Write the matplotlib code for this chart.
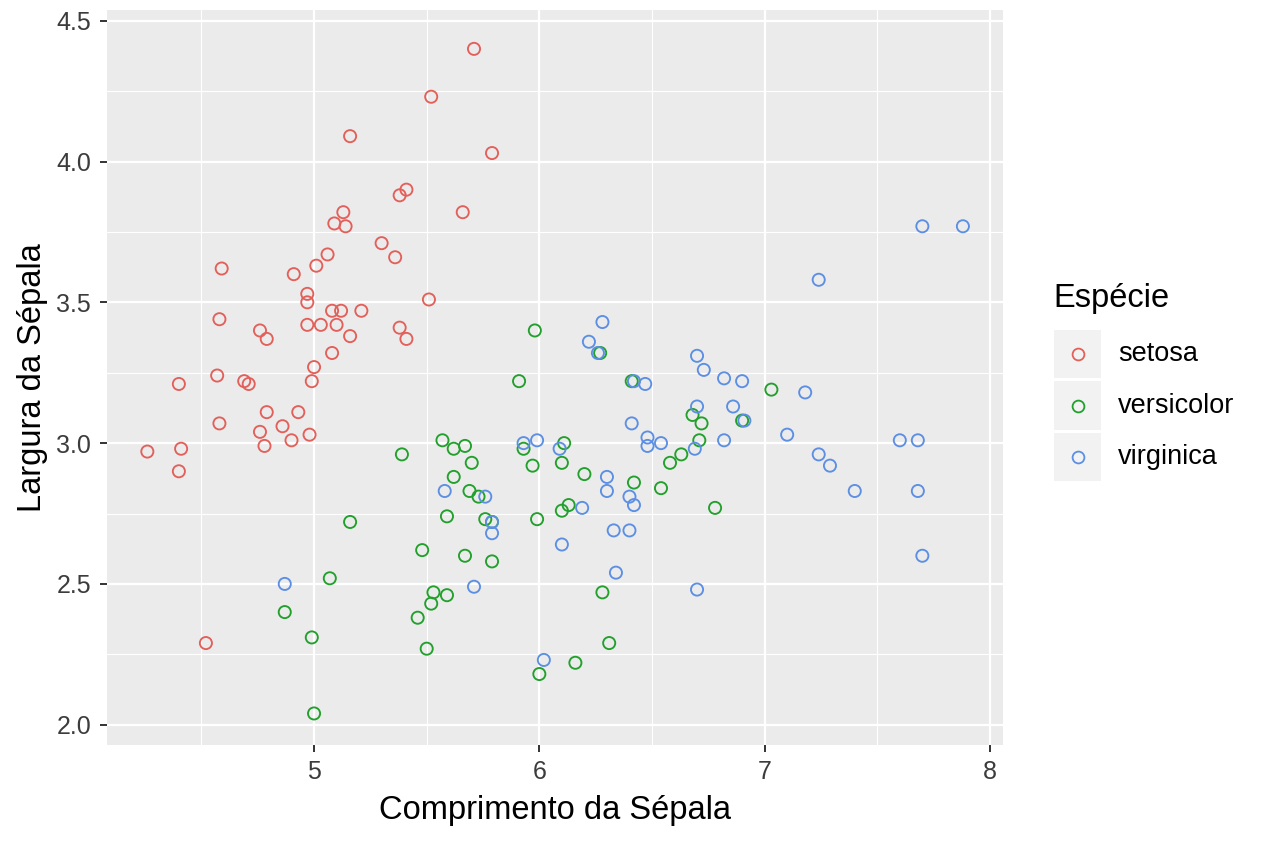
import numpy as np
import matplotlib.pyplot as plt
from matplotlib.patches import Rectangle
from matplotlib.lines import Line2D
from matplotlib.ticker import MultipleLocator

plt.rcParams['font.family'] = ['Liberation Sans', 'DejaVu Sans']

# Jittered iris values
setosa_x = [5.71, 5.52, 5.16, 5.79, 5.41, 5.38, 5.66, 5.13, 5.09, 5.14,
            5.30, 5.06, 5.36, 4.59, 5.01, 4.91, 4.97, 5.51, 4.97, 5.08,
            5.12, 5.21, 4.58, 4.97, 5.03, 5.10, 5.38, 4.76, 5.16, 4.79,
            5.41, 5.08, 5.00, 4.57, 4.69, 4.71, 4.99, 4.40, 4.79, 4.93,
            4.58, 4.86, 4.76, 4.98, 4.90, 4.78, 4.41, 4.26, 4.40, 4.52]
setosa_y = [4.40, 4.23, 4.09, 4.03, 3.90, 3.88, 3.82, 3.82, 3.78, 3.77,
            3.71, 3.67, 3.66, 3.62, 3.63, 3.60, 3.53, 3.51, 3.50, 3.47,
            3.47, 3.47, 3.44, 3.42, 3.42, 3.42, 3.41, 3.40, 3.38, 3.37,
            3.37, 3.32, 3.27, 3.24, 3.22, 3.21, 3.22, 3.21, 3.11, 3.11,
            3.07, 3.06, 3.04, 3.03, 3.01, 2.99, 2.98, 2.97, 2.90, 2.29]

versicolor_x = [5.98, 5.91, 5.57, 5.62, 5.67, 5.39, 5.70, 5.62, 5.69, 5.73,
                5.59, 5.76, 5.79, 5.16, 5.48, 5.67, 5.79, 5.07, 5.53, 5.59,
                5.52, 4.87, 5.46, 4.99, 5.50, 5.00, 5.93, 6.11, 5.97, 6.10,
                6.20, 5.99, 6.10, 6.13, 6.42, 6.54, 6.78, 6.58, 6.63, 6.71,
                6.68, 6.72, 6.41, 6.28, 6.31, 6.16, 6.00, 6.90, 7.03, 6.27]
versicolor_y = [3.40, 3.22, 3.01, 2.98, 2.99, 2.96, 2.93, 2.88, 2.83, 2.81,
                2.74, 2.73, 2.72, 2.72, 2.62, 2.60, 2.58, 2.52, 2.47, 2.46,
                2.43, 2.40, 2.38, 2.31, 2.27, 2.04, 2.98, 3.00, 2.92, 2.93,
                2.89, 2.73, 2.76, 2.78, 2.86, 2.84, 2.77, 2.93, 2.96, 3.01,
                3.10, 3.07, 3.22, 2.47, 2.29, 2.22, 2.18, 3.08, 3.19, 3.32]

virginica_x = [7.70, 7.88, 7.24, 6.28, 6.22, 6.26, 6.70, 6.73, 6.82, 6.90,
               6.42, 6.47, 7.18, 6.70, 6.86, 6.91, 6.41, 7.10, 6.48, 6.48,
               6.54, 6.69, 6.82, 7.60, 7.68, 7.24, 7.29, 7.40, 7.68, 6.30,
               6.30, 6.40, 6.42, 6.33, 6.40, 7.70, 6.34, 6.70, 5.93, 5.99,
               6.09, 5.58, 5.76, 6.19, 5.79, 5.79, 6.10, 5.71, 6.02, 4.87]
virginica_y = [3.77, 3.77, 3.58, 3.43, 3.36, 3.32, 3.31, 3.26, 3.23, 3.22,
               3.22, 3.21, 3.18, 3.13, 3.13, 3.08, 3.07, 3.03, 3.02, 2.99,
               3.00, 2.98, 3.01, 3.01, 3.01, 2.96, 2.92, 2.83, 2.83, 2.88,
               2.83, 2.81, 2.78, 2.69, 2.69, 2.60, 2.54, 2.48, 3.00, 3.01,
               2.98, 2.83, 2.81, 2.77, 2.72, 2.68, 2.64, 2.49, 2.23, 2.50]

species = ['setosa', 'versicolor', 'virginica']
colors = ['#E3605A', '#21A02B', '#5C8FE4']
xs = [setosa_x, versicolor_x, virginica_x]
ys = [setosa_y, versicolor_y, virginica_y]

fig = plt.figure(figsize=(12.64, 8.43), dpi=100)
ax = fig.add_axes([107 / 1264, 98 / 843, 896 / 1264, 735 / 843])
ax.set_facecolor('#EBEBEB')
for side in ax.spines.values():
    side.set_visible(False)

for x, y, c in zip(xs, ys, colors):
    ax.scatter(x, y, s=76, facecolors='none', edgecolors=c, linewidths=1.35, zorder=3)

ax.set_xlim(4.081, 8.058)
ax.set_ylim(1.928, 4.538)
ax.xaxis.set_major_locator(MultipleLocator(1))
ax.xaxis.set_minor_locator(MultipleLocator(0.5))
ax.yaxis.set_major_locator(MultipleLocator(0.5))
ax.yaxis.set_minor_locator(MultipleLocator(0.25))
ax.set_yticks([2.0, 2.5, 3.0, 3.5, 4.0, 4.5])
ax.set_yticklabels(['2.0', '2.5', '3.0', '3.5', '4.0', '4.5'])
ax.grid(which='major', color='white', linewidth=1.6)
ax.grid(which='minor', color='white', linewidth=0.8)
ax.set_axisbelow(True)
ax.tick_params(which='major', length=5, width=1.4, color='#333333',
               labelsize=18, labelcolor='#3C3C3C')
ax.tick_params(axis='x', which='major', pad=5.5)
ax.tick_params(axis='y', which='major', pad=6.5)
ax.tick_params(which='minor', length=0)

ax.set_xlabel('Comprimento da Sépala', fontsize=23.5, color='black', labelpad=8)
ax.set_ylabel('Largura da Sépala', fontsize=23.5, color='black', labelpad=6)

# legend drawn by hand to get the ggplot key boxes
W, H = 1264, 843
fig.text(1053 / W, 1 - 298 / H, 'Espécie', fontsize=23.5, va='center', ha='left')
for i, (name, c) in enumerate(zip(species, colors)):
    cy = 354 + i * 51.5
    fig.add_artist(Rectangle((1054 / W, 1 - (cy + 24) / H), 47 / W, 48 / H,
                             transform=fig.transFigure, facecolor='#F2F2F2',
                             edgecolor='none'))
    fig.add_artist(Line2D([1078 / W], [1 - cy / H], transform=fig.transFigure,
                          marker='o', markersize=8.5, markerfacecolor='none',
                          markeredgecolor=c, markeredgewidth=1.3, linestyle='none'))
    fig.text(1118 / W, 1 - cy / H, name, fontsize=19.5, va='center', ha='left')

fig.savefig('out.png', dpi=100)
